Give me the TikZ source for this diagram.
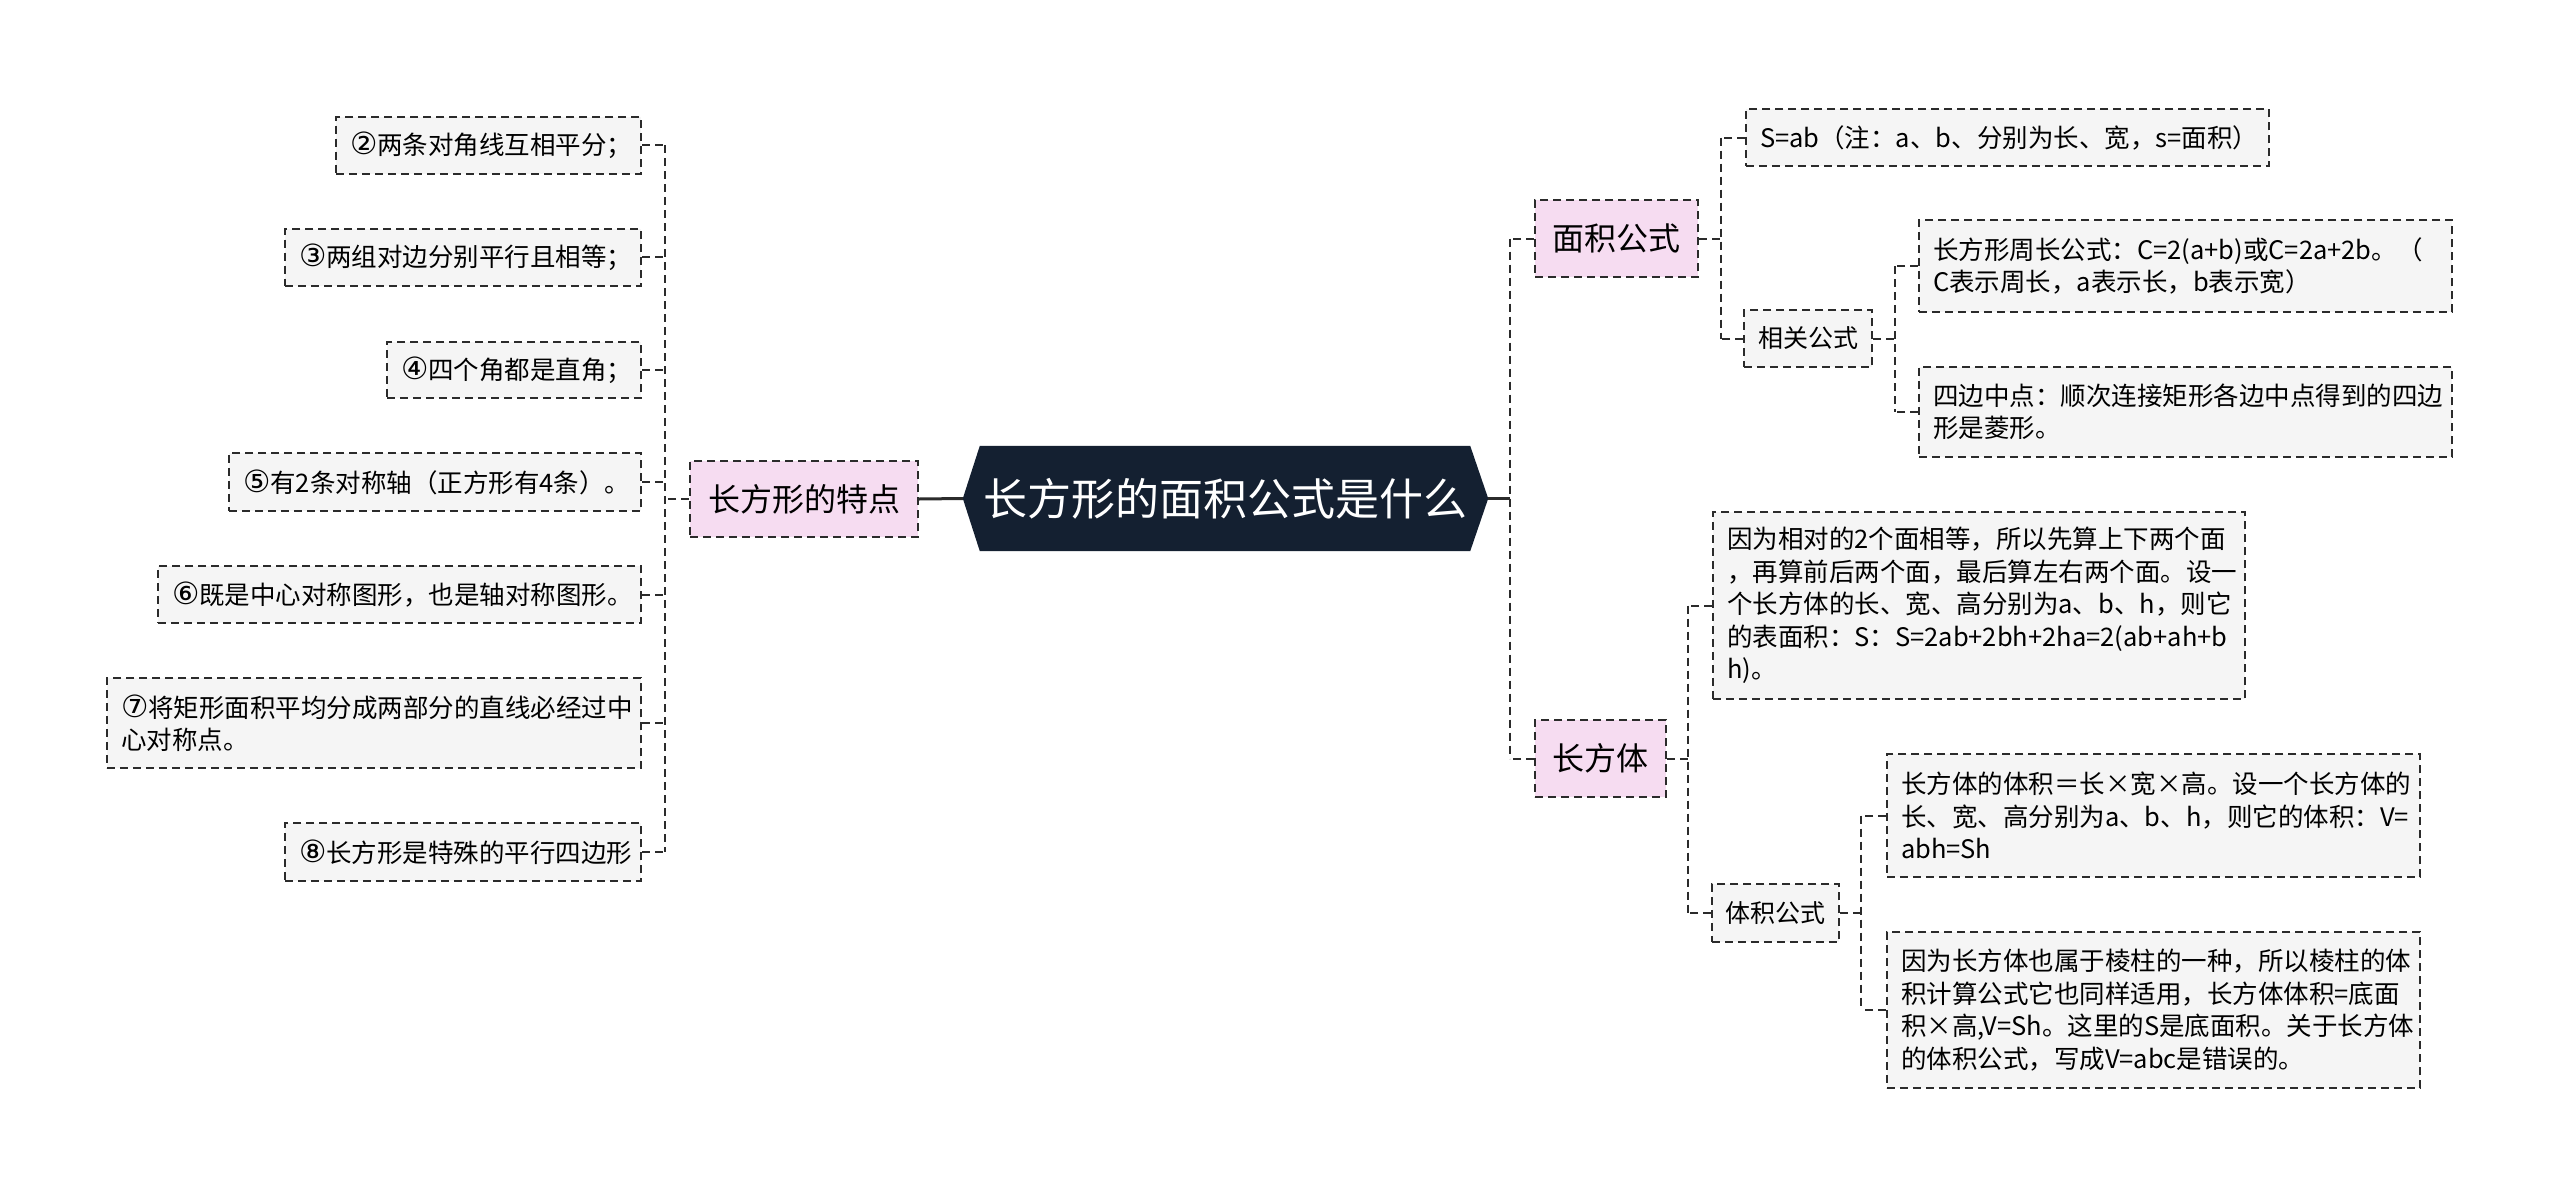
\documentclass[tikz,border=0pt]{standalone}
\usepackage{fontspec}
\setmainfont{Noto Sans CJK SC}
\newfontfamily\cdigfont{DejaVu Sans}[Scale=1.2]
\newcommand{\cdig}[1]{{\cdigfont #1}}
\pgfdeclarelayer{background}
\pgfsetlayers{background,main}
\definecolor{lc}{HTML}{2B2B2B}
\definecolor{leafc}{HTML}{F5F5F5}
\definecolor{pinkc}{HTML}{F6DCF1}
\definecolor{navy}{HTML}{142031}
\tikzset{
  dsh/.style={draw=lc, line width=2pt, dash pattern=on 8pt off 5pt},
  conn/.style={dsh},
  mainline/.style={draw=lc, line width=3pt},
  leaf/.style={dsh, fill=leafc, align=left, inner xsep=14pt, inner ysep=0pt, anchor=west, text=black, font=\fontsize{25.5}{32.5}\selectfont},
  leafL/.style={leaf, anchor=east},
  midbox/.style={dsh, fill=leafc, align=center, inner sep=0pt, anchor=west, text=black, font=\fontsize{25}{30}\selectfont},
  topic/.style={dsh, fill=pinkc, align=center, inner sep=0pt, anchor=west, text=black, font=\fontsize{32}{38}\selectfont},
}
\begin{document}
\begin{tikzpicture}[x=1pt,y=-1pt]
\begin{pgfonlayer}{background}
\fill[white] (0,0) rectangle (2560,1197);
\end{pgfonlayer}
\useasboundingbox (0,0) rectangle (2560,1197);

% root
\node[text=white, font=\fontsize{44}{50}\selectfont, inner sep=0pt, minimum width=490pt, minimum height=105pt] (root) at (1225,498.5) {长方形的面积公式是什么};
\coordinate (rootW) at ([xshift=-17pt]root.west);
\coordinate (rootE) at ([xshift=18pt]root.east);
\begin{pgfonlayer}{background}
\fill[navy] (rootW) -- (root.north west) -- (root.north east) -- (rootE) -- (root.south east) -- (root.south west) -- cycle;
\end{pgfonlayer}

% trunks
\coordinate (tL) at (665,0);
\coordinate (tR) at (1510,0);
\coordinate (tA) at (1721,0);
\coordinate (tB) at (1895,0);
\coordinate (tC) at (1688,0);
\coordinate (tD) at (1861,0);

% left side
\node[topic, minimum width=228pt, minimum height=76pt] (lt) at (689,499) {长方形的特点};
\node[leafL, text width=277pt, minimum height=57pt] (l2) at (642,145) {\cdig{②}两条对角线互相平分；};
\node[leafL, text width=328pt, minimum height=57pt] (l3) at (642,257) {\cdig{③}两组对边分别平行且相等；};
\node[leafL, text width=226pt, minimum height=56pt] (l4) at (642,370) {\cdig{④}四个角都是直角；};
\node[leafL, text width=384pt, minimum height=58pt] (l5) at (642,482) {\cdig{⑤}有2条对称轴（正方形有4条）。};
\node[leafL, text width=455pt, minimum height=57pt] (l6) at (642,594.5) {\cdig{⑥}既是中心对称图形，也是轴对称图形。};
\node[leafL, text width=506pt, minimum height=90pt] (l7) at (642,723) {\cdig{⑦}将矩形面积平均分成两部分的直线必经过中\\心对称点。};
\node[leafL, text width=328pt, minimum height=58pt] (l8) at (642,852) {\cdig{⑧}长方形是特殊的平行四边形};

% right side
\node[topic, minimum width=163pt, minimum height=77pt] (mj) at (1534,238.5) {面积公式};
\node[topic, minimum width=131pt, minimum height=77pt] (cft) at (1534,758.5) {长方体};

\node[leaf, text width=495pt, minimum height=57pt] (sab) at (1745,137.5) {S=ab（注：a、b、分别为长、宽，s=面积）};
\node[midbox, minimum width=128pt, minimum height=57pt] (xg) at (1743,338.5) {相关公式};
\node[leaf, text width=505pt, minimum height=92pt] (zc) at (1918,266) {长方形周长公式：C=2(a+b)或C=2a+2b。（\\C表示周长，a表示长，b表示宽）};
\node[leaf, text width=505pt, minimum height=90pt] (sb) at (1918,412) {四边中点：顺次连接矩形各边中点得到的四边\\形是菱形。};

\node[leaf, text width=504pt, minimum height=187pt] (bm) at (1712,605.5) {因为相对的2个面相等，所以先算上下两个面\\，再算前后两个面，最后算左右两个面。设一\\个长方体的长、宽、高分别为a、b、h，则它\\的表面积：S：S=2ab+2bh+2ha=2(ab+ah+b\\h)。};
\node[midbox, minimum width=127pt, minimum height=58pt] (tj) at (1711,913) {体积公式};
\node[leaf, text width=505pt, minimum height=123pt] (tj1) at (1886,815.5) {长方体的体积＝长×宽×高。设一个长方体的\\长、宽、高分别为a、b、h，则它的体积：V=\\abh=Sh};
\node[leaf, text width=505pt, minimum height=156pt] (tj2) at (1886,1010) {因为长方体也属于棱柱的一种，所以棱柱的体\\积计算公式它也同样适用，长方体体积=底面\\积×高,V=Sh。这里的S是底面积。关于长方体\\的体积公式，写成V=abc是错误的。};

% connectors: root
\draw[mainline] (rootW) -- (lt.east);
\draw[mainline] (rootE) -- (rootE -| tR);

% left trunk
\draw[conn] (lt.west) -- (lt.west -| tL);
\draw[conn] (l2.east -| tL) -- (l8.east -| tL);
\foreach \n in {l2,l3,l4,l5,l6,l7,l8} \draw[conn] (\n.east) -- (\n.east -| tL);

% right trunk
\draw[conn] (mj.west -| tR) -- (cft.west -| tR);
\draw[conn] (mj.west) -- (mj.west -| tR);
\draw[conn] (cft.west) -- (cft.west -| tR);

% 面积公式
\draw[conn] (mj.east) -- (mj.east -| tA);
\draw[conn] (sab.west -| tA) -- (xg.west -| tA);
\draw[conn] (sab.west) -- (sab.west -| tA);
\draw[conn] (xg.west) -- (xg.west -| tA);

% 相关公式
\draw[conn] (xg.east) -- (xg.east -| tB);
\draw[conn] (zc.west -| tB) -- (sb.west -| tB);
\draw[conn] (zc.west) -- (zc.west -| tB);
\draw[conn] (sb.west) -- (sb.west -| tB);

% 长方体
\draw[conn] (cft.east) -- (cft.east -| tC);
\draw[conn] (bm.west -| tC) -- (tj.west -| tC);
\draw[conn] (bm.west) -- (bm.west -| tC);
\draw[conn] (tj.west) -- (tj.west -| tC);

% 体积公式
\draw[conn] (tj.east) -- (tj.east -| tD);
\draw[conn] (tj1.west -| tD) -- (tj2.west -| tD);
\draw[conn] (tj1.west) -- (tj1.west -| tD);
\draw[conn] (tj2.west) -- (tj2.west -| tD);
\end{tikzpicture}
\end{document}
